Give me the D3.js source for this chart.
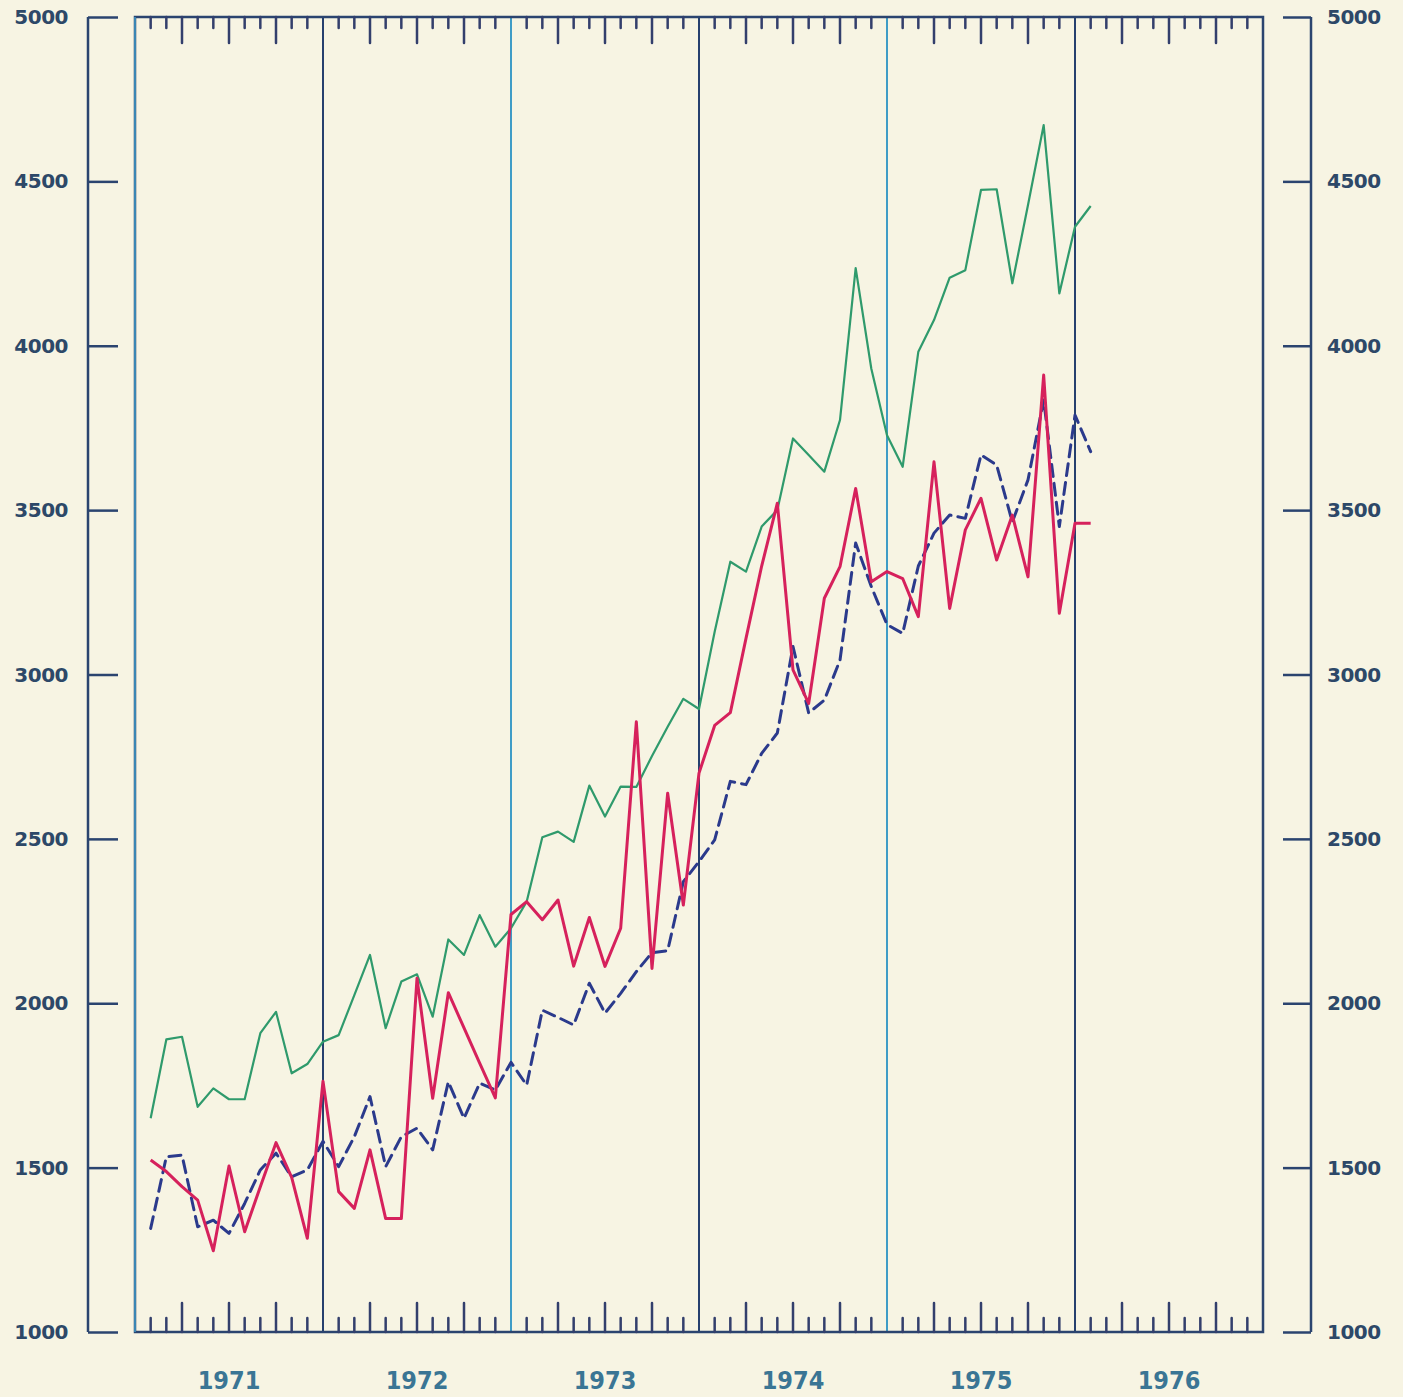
<!DOCTYPE html>
<html>
<head>
<meta charset="utf-8">
<style>
body { margin: 0; background: #f7f4e3; }
svg { display: block; }
.ylab { font: bold 20px "DejaVu Sans", sans-serif; fill: #2d4868; letter-spacing: -0.5px; }
.year { font: bold 25px "DejaVu Sans Condensed", "DejaVu Sans", sans-serif; fill: #3a7594; }
</style>
</head>
<body>
<svg id="chart" width="1403" height="1397"></svg>
<script src="https://cdn.jsdelivr.net/npm/d3@7"></script>
<script>
// monthly values, Jan 1971 .. Jan 1976
var years = [1971, 1972, 1973, 1974, 1975, 1976];
var yTicks = [1000, 1500, 2000, 2500, 3000, 3500, 4000, 4500, 5000];

var green = [
  1650, 1890, 1898, 1685, 1741, 1708, 1708, 1909, 1974, 1787, 1815, 1883,
  1903, 2025, 2147, 1924, 2066, 2088, 1959, 2194, 2147, 2268, 2172, 2228,
  2309, 2505, 2522, 2491, 2662, 2568, 2659, 2658, 2752, 2841, 2926, 2895,
  3130, 3343, 3313, 3450, 3500, 3718, 3668, 3617, 3774, 4236, 3930, 3728,
  3632, 3982, 4078, 4207, 4230, 4474, 4476, 4190, 4428, 4671, 4159, 4362,
  4425
];
var red = [
  1523, 1488, 1442, 1401, 1247, 1505, 1305, 1442, 1576, 1470, 1285, 1763,
  1427, 1376, 1554, 1345, 1345, 2076, 1711, 2032, 1925, 1818, 1712, 2270,
  2309, 2254, 2314, 2113, 2261, 2112, 2228, 2856, 2106, 2639, 2299, 2700,
  2845, 2884, 3110, 3330, 3521, 3014, 2912, 3232, 3328, 3566, 3282, 3313,
  3292, 3176, 3647, 3201, 3440, 3536, 3348, 3485, 3297, 3911, 3186, 3460,
  3460
];
var blue = [
  1315, 1533, 1538, 1320, 1340, 1300, 1391, 1493, 1544, 1472, 1493, 1580,
  1503, 1594, 1716, 1503, 1594, 1620, 1554, 1761, 1650, 1757, 1736, 1820,
  1751, 1979, 1957, 1934, 2061, 1970, 2030, 2096, 2154, 2160, 2370, 2431,
  2497, 2675, 2665, 2760, 2822, 3085, 2883, 2922, 3044, 3400, 3267, 3152,
  3125, 3330, 3430, 3485, 3475, 3668, 3637, 3464, 3592, 3835, 3450, 3789,
  3678
];

function draw() {
var svg = d3.select("#chart");
var pl = 135, pr = 1263, pt = 17, pb = 1332;

var x = d3.scaleLinear().domain([0, 72]).range([pl, pr]);
var y = d3.scaleLinear().domain([1000, 5000]).range([pb, pt]);

svg.append("rect").attr("width", 1403).attr("height", 1397).attr("fill", "#f7f4e3");

// year grid lines
var gridColors = ["#26406e", "#3f9cc6", "#26406e", "#3f9cc6", "#26406e"];
svg.append("g").selectAll("line")
  .data(d3.range(1, 6))
  .enter().append("line")
    .attr("x1", function(d) { return x(d * 12); })
    .attr("x2", function(d) { return x(d * 12); })
    .attr("y1", pt).attr("y2", pb)
    .attr("stroke", function(d, i) { return gridColors[i]; })
    .attr("stroke-width", 2);

// frame
svg.append("rect")
  .attr("x", pl).attr("y", pt)
  .attr("width", pr - pl).attr("height", pb - pt)
  .attr("fill", "none").attr("stroke", "#2b446f").attr("stroke-width", 2.5);
svg.append("line")
  .attr("x1", pl).attr("x2", pl).attr("y1", pt).attr("y2", pb)
  .attr("stroke", "#3a86b4").attr("stroke-width", 2);

// month ticks top and bottom
var months = d3.range(1, 72).filter(function(m) { return m % 12 != 0; });
function tickLen(m) { return m % 3 == 0 ? 29 : 14; }
var ticks = svg.append("g").attr("stroke", "#333f6c").attr("stroke-width", 2.5).attr("stroke-linecap", "round");
ticks.selectAll(".tb").data(months).enter().append("line")
  .attr("x1", function(d) { return x(d); }).attr("x2", function(d) { return x(d); })
  .attr("y1", pb).attr("y2", function(d) { return pb - tickLen(d); });
ticks.selectAll(".tt").data(months).enter().append("line")
  .attr("x1", function(d) { return x(d); }).attr("x2", function(d) { return x(d); })
  .attr("y1", pt).attr("y2", function(d) { return pt + tickLen(d) - 3; });

// outer value axes
var axL = svg.append("g").attr("transform", "translate(88,0)")
  .call(d3.axisRight(y).tickValues(yTicks).tickSize(30).tickFormat(""));
var axR = svg.append("g").attr("transform", "translate(1311,0)")
  .call(d3.axisLeft(y).tickValues(yTicks).tickSize(28).tickFormat(""));
[axL, axR].forEach(function(a) {
  a.select(".domain").remove();
  a.selectAll("line").attr("stroke", "#2b446f").attr("stroke-width", 2.5);
});
svg.append("line").attr("x1", 88).attr("x2", 88).attr("y1", pt).attr("y2", pb)
  .attr("stroke", "#2b446f").attr("stroke-width", 2.5);
svg.append("line").attr("x1", 1311).attr("x2", 1311).attr("y1", pt).attr("y2", pb)
  .attr("stroke", "#2b446f").attr("stroke-width", 2.5);

svg.append("g").selectAll("text").data(yTicks).enter().append("text")
  .attr("class", "ylab").attr("x", 68).attr("y", function(d) { return y(d) + 7; })
  .attr("text-anchor", "end").text(function(d) { return d; });
svg.append("g").selectAll("text").data(yTicks).enter().append("text")
  .attr("class", "ylab").attr("x", 1327).attr("y", function(d) { return y(d) + 7; })
  .attr("text-anchor", "start").text(function(d) { return d; });

svg.append("g").selectAll("text").data(years).enter().append("text")
  .attr("class", "year")
  .attr("x", function(d, i) { return x(i * 12 + 6); })
  .attr("y", 1389).attr("text-anchor", "middle").text(function(d) { return d; });

// series
var line = d3.line()
  .x(function(d, i) { return x(i + 1); })
  .y(function(d) { return y(d); });

svg.append("path").datum(green).attr("d", line)
  .attr("fill", "none").attr("stroke", "#2f9a6c").attr("stroke-width", 2.2)
  .attr("stroke-linejoin", "round");
svg.append("path").datum(blue).attr("d", line)
  .attr("fill", "none").attr("stroke", "#2b3a8c").attr("stroke-width", 3)
  .attr("stroke-dasharray", "12,7").attr("stroke-linecap", "round")
  .attr("stroke-linejoin", "round");
svg.append("path").datum(red).attr("d", line)
  .attr("fill", "none").attr("stroke", "#d6215c").attr("stroke-width", 3)
  .attr("stroke-linejoin", "round");
}
draw();
</script>
</body>
</html>
